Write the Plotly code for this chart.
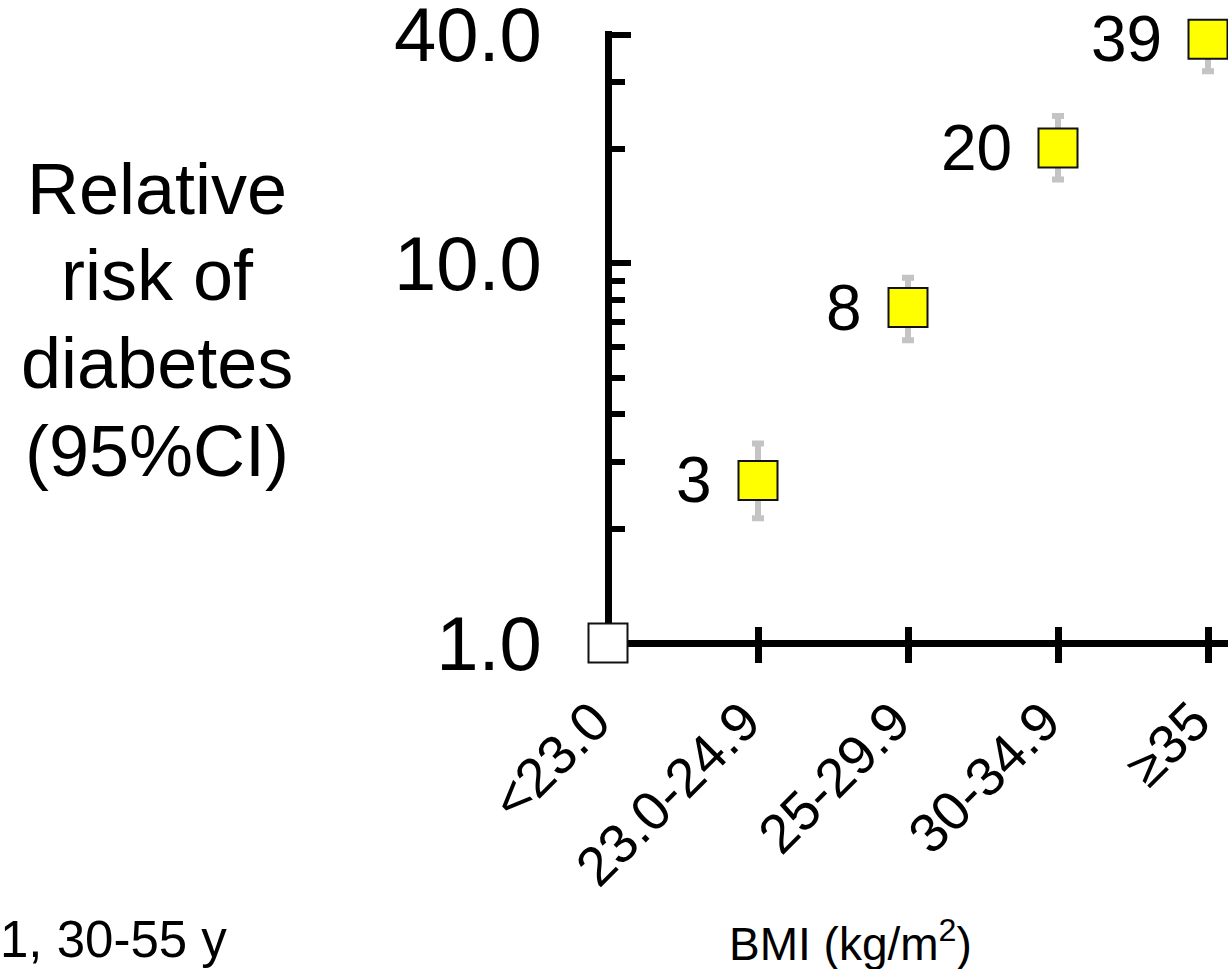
import math
import plotly.graph_objects as go

# BMI categories (x axis) and relative risk of diabetes with 95% CI
bmi_groups = ["<23.0", "23.0-24.9", "25-29.9", "30-34.9", "≥35"]
relative_risk = [1.0, 2.68, 7.64, 20.1, 38.9]
ci_lower = [1.0, 2.13, 6.27, 16.6, 32.0]
ci_upper = [1.0, 3.35, 9.16, 24.4, 42.0]

y_tick_vals = [1, 10, 40]
y_tick_text = ["1.0", "10.0", "40.0"]
y_minor_vals = [2, 3, 4, 5, 6, 7, 8, 9, 20, 30]

W, H = 1228, 969
M_L, M_R, M_T, M_B = 608, 0, 31, 326
plot_w = W - M_L - M_R
plot_h = H - M_T - M_B
LINE_W = 7
FONT = "Liberation Sans, Arial, sans-serif"

# pixels per category step and per decade
x_step = 150.0
x_range = [0, plot_w / x_step]
decade_px = 379.8
y_range = [0, plot_h / decade_px]


def px_to_paper(px, py):
    return (px - M_L) / plot_w, (H - M_B - py) / plot_h


x_idx = list(range(len(bmi_groups)))

fig = go.Figure()

# invisible trace that activates the overlay x axis
fig.add_trace(go.Scatter(x=[1], y=[1], xaxis="x2", yaxis="y", mode="markers",
                         marker=dict(opacity=0), hoverinfo="skip",
                         showlegend=False))

# reference category (open square)
fig.add_trace(go.Scatter(
    x=x_idx[:1], y=relative_risk[:1],
    mode="markers",
    marker=dict(symbol="square", size=39, color="white",
                line=dict(color="#111111", width=2)),
    cliponaxis=False, showlegend=False,
))

# higher BMI categories with 95% CI
fig.add_trace(go.Scatter(
    x=x_idx[1:], y=relative_risk[1:],
    mode="markers",
    marker=dict(symbol="square", size=39, color="#FFFF00",
                line=dict(color="#111111", width=2)),
    error_y=dict(
        type="data", symmetric=False,
        array=[u - v for u, v in zip(ci_upper[1:], relative_risk[1:])],
        arrayminus=[v - l for v, l in zip(relative_risk[1:], ci_lower[1:])],
        color="#C4C4C4", thickness=6, width=6,
    ),
    cliponaxis=False, showlegend=False,
))

# point labels (rounded relative risk) to the left of each marker
for xi, v in zip(x_idx[1:], relative_risk[1:]):
    fig.add_annotation(
        x=xi, y=math.log10(v), xref="x", yref="y",
        text=str(round(v)), showarrow=False,
        xanchor="right", yanchor="middle", xshift=-44,
        font=dict(family=FONT, size=64, color="black"),
    )

# y axis title, one line per annotation
title_lines = ["Relative", "risk of", "diabetes", "(95%CI)"]
title_centers = [189, 275, 363, 451]
for line, cy in zip(title_lines, title_centers):
    ax_, ay_ = px_to_paper(157, cy)
    fig.add_annotation(
        x=ax_, y=ay_, xref="paper", yref="paper",
        text=line, showarrow=False, xanchor="center", yanchor="middle",
        font=dict(family=FONT, size=72, color="black"),
    )

# x axis title
bx, by = px_to_paper(850, 941)
fig.add_annotation(
    x=bx, y=by, xref="paper", yref="paper",
    text="BMI (kg/m<sup>2</sup>)", showarrow=False,
    xanchor="center", yanchor="middle",
    font=dict(family=FONT, size=46, color="black"),
)

# cohort note at the bottom left
nx, ny = px_to_paper(-2, 939)
fig.add_annotation(
    x=nx, y=ny, xref="paper", yref="paper",
    text="1, 30-55 y", showarrow=False,
    xanchor="left", yanchor="middle",
    font=dict(family=FONT, size=51, color="black"),
)

fig.update_layout(
    width=W, height=H,
    margin=dict(l=M_L, r=M_R, t=M_T, b=M_B, pad=0, autoexpand=False),
    paper_bgcolor="white", plot_bgcolor="white",
    font=dict(family=FONT, color="black"),
    xaxis=dict(
        range=x_range, tickmode="array", tickvals=x_idx, ticktext=bmi_groups,
        anchor="free", position=0, automargin=False, layer="below traces",
        tickangle=-45, ticks="outside", ticklen=16, tickwidth=7,
        tickcolor="black", showline=True, linecolor="black", linewidth=LINE_W,
        showgrid=False, zeroline=False, ticklabeloverflow="allow",
        ticklabelshift=-14, ticklabelstandoff=4,
        tickfont=dict(family=FONT, size=55, color="black"),
    ),
    # overlay axis that draws the upper half of the crossing x ticks
    xaxis2=dict(
        overlaying="x", matches="x", side="bottom",
        anchor="free", position=0, automargin=False, layer="below traces",
        tickmode="array", tickvals=x_idx[1:], ticks="inside", ticklen=16,
        tickwidth=7, tickcolor="black", showticklabels=False,
        showline=False, linewidth=LINE_W, showgrid=False, zeroline=False,
    ),
    yaxis=dict(
        type="log", range=y_range,
        anchor="free", position=0, automargin=False, layer="below traces",
        tickmode="array", tickvals=y_tick_vals, ticktext=y_tick_text,
        ticks="inside", ticklen=19, tickwidth=6, tickcolor="black",
        minor=dict(tickmode="array", tickvals=y_minor_vals, ticks="inside",
                   ticklen=13, tickwidth=6, tickcolor="black", showgrid=False),
        showline=True, linecolor="black", linewidth=LINE_W,
        showgrid=False, zeroline=False, ticklabelstandoff=48,
        ticklabeloverflow="allow",
        tickfont=dict(family=FONT, size=76, color="black"),
    ),
)

fig.write_html("out.html")
